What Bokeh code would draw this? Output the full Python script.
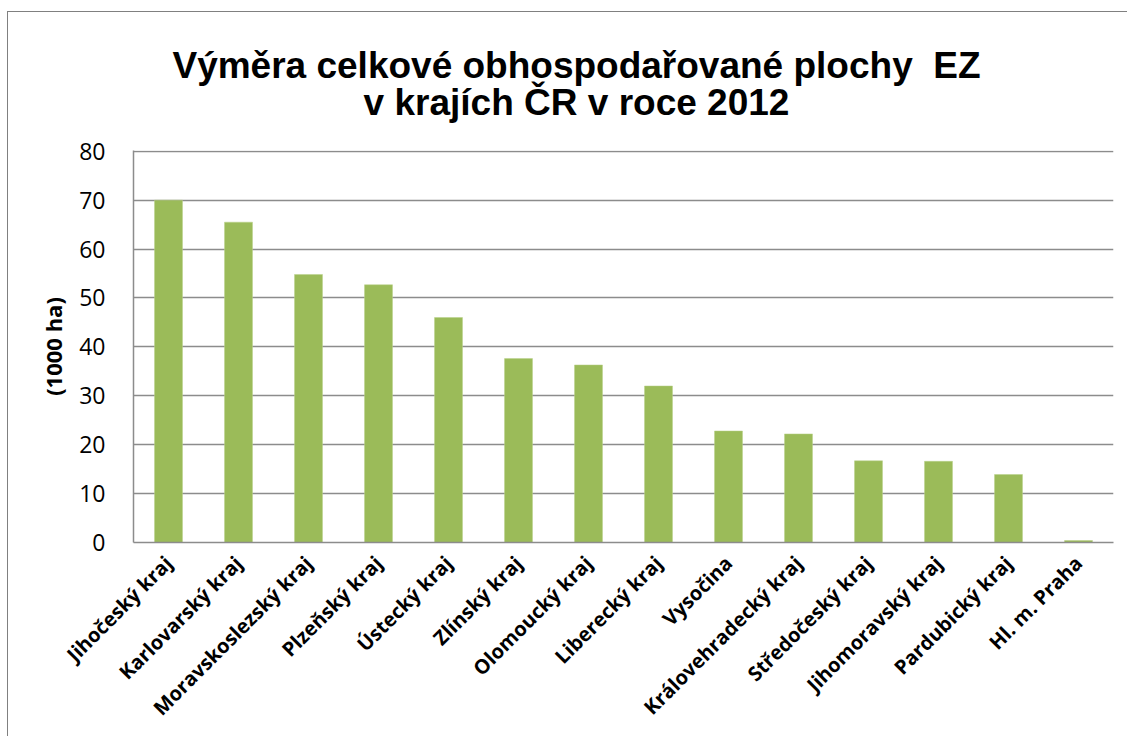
from math import pi
from bokeh.plotting import figure
from bokeh.layouts import column
from bokeh.models import FactorRange, Range1d, SingleIntervalTicker, Label
from bokeh.embed import file_html
from bokeh.resources import INLINE

title_line1 = "Výměra celkové obhospodařované plochy \u00a0EZ"
title_line2 = "v krajích ČR v roce 2012"
y_label = "(1000 ha)"
regions = ["Jihočeský kraj", "Karlovarský kraj", "Moravskoslezský kraj", "Plzeňský kraj",
           "Ústecký kraj", "Zlínský kraj", "Olomoucký kraj", "Liberecký kraj", "Vysočina",
           "Královehradecký kraj", "Středočeský kraj", "Jihomoravský kraj",
           "Pardubický kraj", "Hl. m. Praha"]
values = [70.0, 65.5, 54.8, 52.7, 46.0, 37.6, 36.3, 32.0, 22.8, 22.2, 16.7, 16.6, 13.9, 0.4]

# title strip (its own small figure so the text is not clipped)
t = figure(width=1120, height=123, output_backend="svg", toolbar_location=None,
           x_axis_type=None, y_axis_type=None, x_range=Range1d(0, 1), y_range=Range1d(0, 1),
           min_border=0, title=None)
t.outline_line_color = None
t.background_fill_color = "white"
t.border_fill_color = "white"
t.xgrid.visible = False
t.ygrid.visible = False
for txt, ypos in ((title_line1, 70), (title_line2, 33)):
    t.add_layout(Label(x=443, y=ypos, x_units="screen", y_units="screen", text=txt,
                       text_align="center", text_baseline="alphabetic",
                       text_font="Liberation Sans", text_font_style="bold",
                       text_font_size="37px", text_color="black"))

p = figure(width=1120, height=602, output_backend="svg", toolbar_location=None,
           x_range=FactorRange(factors=regions, range_padding=0),
           y_range=Range1d(0, 80.15), title=None,
           min_border_left=125, min_border_top=15, min_border_right=15, min_border_bottom=195)

p.vbar(x=regions, top=values, width=0.4, fill_color="#9BBB59", line_color="#B9D08A", line_width=0.5)

p.outline_line_color = None
p.background_fill_color = "white"
p.border_fill_color = "white"

p.xgrid.grid_line_color = None
p.ygrid.grid_line_color = "#8c8c8c"
p.ygrid.grid_line_width = 1.5
p.yaxis.ticker = SingleIntervalTicker(interval=10)

for ax in (p.xaxis[0], p.yaxis[0]):
    ax.axis_line_color = "#8c8c8c"
    ax.axis_line_width = 1.5
    ax.major_tick_line_color = None
    ax.minor_tick_line_color = None
    ax.major_tick_in = 0
    ax.major_tick_out = 0

p.yaxis.major_label_text_font = "Open Sans"
p.yaxis.major_label_text_font_size = "23px"
p.yaxis.major_label_text_color = "black"
p.yaxis.major_label_standoff = 24
p.yaxis.axis_label = y_label
p.yaxis.axis_label_text_font = "Open Sans"
p.yaxis.axis_label_text_font_style = "bold"
p.yaxis.axis_label_text_font_size = "22px"
p.yaxis.axis_label_text_color = "black"
p.yaxis.axis_label_standoff = 8

p.xaxis.major_label_orientation = pi / 4
p.xaxis.major_label_text_font = "Open Sans"
p.xaxis.major_label_text_font_style = "bold"
p.xaxis.major_label_text_font_size = "20px"
p.xaxis.major_label_text_color = "black"
p.xaxis.major_label_standoff = 17

layout = column(t, p, spacing=0, margin=(12, 0, 0, 8),
                styles={"box-shadow": "-1px -1px 0 0 #808080"})

open("out.html", "w").write(file_html(layout, INLINE))
